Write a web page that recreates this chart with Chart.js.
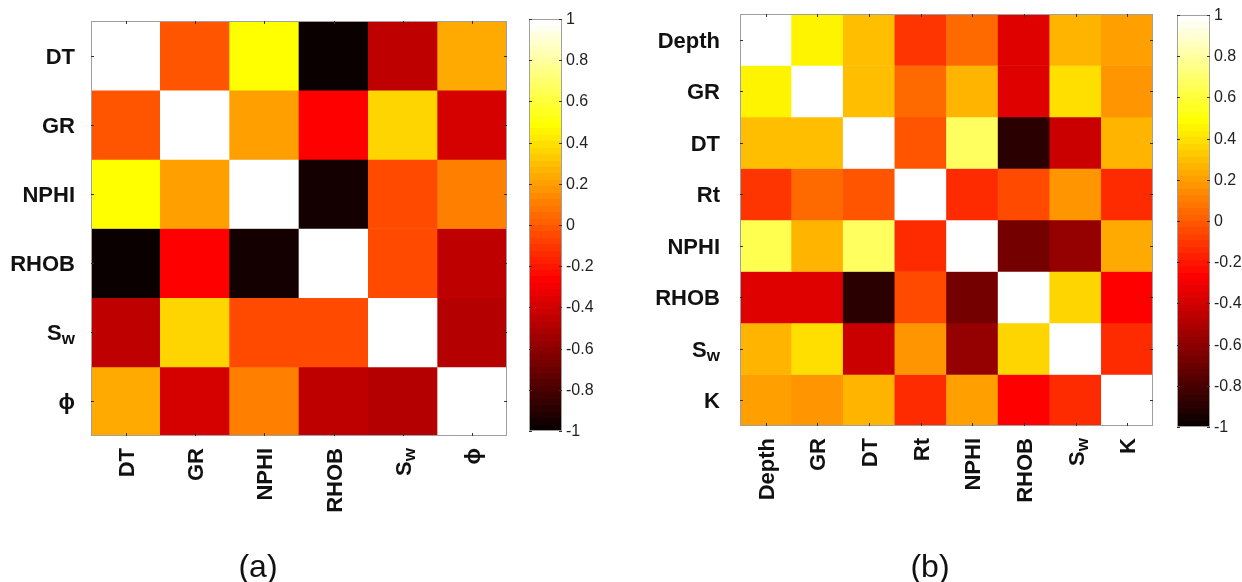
<!DOCTYPE html>
<html>
<head>
<meta charset="utf-8">
<script src="https://cdn.jsdelivr.net/npm/chart.js@4.4.1/dist/chart.umd.min.js"></script>
<style>
  body { margin: 0; background: #fff; }
  #wrap { position: relative; width: 1242px; height: 582px; overflow: hidden; background: #fff;
          font-family: "Liberation Sans", Arial, sans-serif; }
  canvas { position: absolute; top: 0; }
  .cap { position: absolute; width: 100px; text-align: center; font-size: 32px; line-height: 32px; color: #111; }
</style>
</head>
<body>
<div id="wrap">
  <canvas id="heatA" width="520" height="582" style="left:0"></canvas>
  <canvas id="barA" width="110" height="582" style="left:515px"></canvas>
  <canvas id="heatB" width="540" height="582" style="left:625px"></canvas>
  <canvas id="barB" width="77" height="582" style="left:1165px"></canvas>
  <div class="cap" style="left:208px;top:550px">(a)</div>
  <div class="cap" style="left:880px;top:550px">(b)</div>
</div>
<script>
// ---- data ----
const catsA = ['DT', 'GR', 'NPHI', 'RHOB', 'S_w', 'ϕ'];
const corrA = [
  [ 1.00, -0.02,  0.48, -0.98, -0.45,  0.23],
  [-0.02,  1.00,  0.20, -0.27,  0.36, -0.39],
  [ 0.48,  0.20,  1.00, -0.95, -0.05,  0.11],
  [-0.98, -0.27, -0.95,  1.00, -0.05, -0.45],
  [-0.45,  0.36, -0.05, -0.05,  1.00, -0.48],
  [ 0.23, -0.39,  0.11, -0.45, -0.48,  1.00]
];

const catsB = ['Depth', 'GR', 'DT', 'Rt', 'NPHI', 'RHOB', 'S_w', 'K'];
const corrB = [
  [ 1.00,  0.45,  0.30, -0.11,  0.05, -0.36,  0.27,  0.20],
  [ 0.45,  1.00,  0.30,  0.05,  0.27, -0.36,  0.39,  0.17],
  [ 0.30,  0.30,  1.00, -0.02,  0.67, -0.89, -0.42,  0.27],
  [-0.11,  0.05, -0.02,  1.00, -0.14, -0.05,  0.17, -0.14],
  [ 0.64,  0.27,  0.67, -0.14,  1.00, -0.67, -0.58,  0.23],
  [-0.36, -0.36, -0.89, -0.05, -0.67,  1.00,  0.36, -0.27],
  [ 0.27,  0.39, -0.42,  0.17, -0.58,  0.36,  1.00, -0.14],
  [ 0.20,  0.17,  0.27, -0.14,  0.20, -0.27, -0.14,  1.00]
];

const cbarTicks = [1, 0.8, 0.6, 0.4, 0.2, 0, -0.2, -0.4, -0.6, -0.8, -1];

const FONT = '"Liberation Sans", Arial, sans-serif';

// matlab "hot" colormap, 64 levels
const HOT = [];
for (let i = 0; i < 64; i++) {
  const r = Math.min(1, (i + 1) / 24);
  const g = i < 24 ? 0 : Math.min(1, (i - 23) / 24);
  const b = i < 48 ? 0 : (i - 47) / 16;
  HOT.push('rgb(' + Math.round(r * 255) + ',' + Math.round(g * 255) + ',' + Math.round(b * 255) + ')');
}
function hot(v) {
  const t = (v + 1) / 2;
  const idx = Math.max(0, Math.min(63, Math.floor(t * 64)));
  return HOT[idx];
}

// label with optional subscript ("S_w")
function drawLabel(ctx, text, x, y, align) {
  const parts = text.split('_');
  const base = parts[0], sub = parts[1] || '';
  ctx.font = 'bold 22px ' + FONT;
  const wb = ctx.measureText(base).width;
  ctx.font = 'bold 17px ' + FONT;
  const ws = sub ? ctx.measureText(sub).width : 0;
  const total = wb + ws;
  const x0 = align === 'right' ? x - total : x - total / 2;
  const yb = y + 8;
  ctx.textAlign = 'left';
  ctx.textBaseline = 'alphabetic';
  ctx.fillStyle = '#111';
  ctx.font = 'bold 22px ' + FONT;
  ctx.fillText(base, x0, yb);
  if (sub) {
    ctx.font = 'bold 17px ' + FONT;
    ctx.fillText(sub, x0 + wb, yb + 4);
  }
}

const heatLabels = {
  id: 'heatLabels',
  afterDraw(chart, args, opts) {
    const { ctx, chartArea: a, scales: { x, y } } = chart;
    const cats = chart.data.labels;
    ctx.save();
    // frame
    ctx.strokeStyle = '#a0a0a0';
    ctx.lineWidth = 1;
    ctx.strokeRect(a.left + 0.5, a.top + 0.5, a.width - 1, a.height - 1);
    // small inner ticks
    ctx.strokeStyle = '#333';
    cats.forEach((c, i) => {
      const px = Math.round(x.getPixelForValue(i)) + 0.5;
      const py = Math.round(y.getPixelForValue(i + 0.5)) + 0.5;
      ctx.beginPath();
      ctx.moveTo(px, a.top); ctx.lineTo(px, a.top + 3);
      ctx.moveTo(px, a.bottom); ctx.lineTo(px, a.bottom - 3);
      ctx.moveTo(a.left, py); ctx.lineTo(a.left + 3, py);
      ctx.moveTo(a.right, py); ctx.lineTo(a.right - 3, py);
      ctx.stroke();
    });
    // row labels
    cats.forEach((c, i) => {
      drawLabel(ctx, c, a.left - opts.gap, y.getPixelForValue(i + 0.5), 'right');
    });
    // column labels, rotated
    cats.forEach((c, i) => {
      ctx.save();
      ctx.translate(x.getPixelForValue(i), a.bottom + 12);
      ctx.rotate(-Math.PI / 2);
      drawLabel(ctx, c, 0, 0, 'right');
      ctx.restore();
    });
    ctx.restore();
  }
};

function heatmap(id, cats, corr, pad, gap) {
  new Chart(document.getElementById(id), {
    type: 'bar',
    data: {
      labels: cats,
      datasets: corr.map((row, r) => ({
        label: cats[r],
        data: row.map((v, j) => ({ x: cats[j], y: 1, v: v })),
        backgroundColor: (ctx) => hot(ctx.raw ? ctx.raw.v : 0),
        borderWidth: 0,
        barPercentage: 1,
        categoryPercentage: 1
      }))
    },
    options: {
      responsive: false,
      animation: false,
      layout: { padding: pad },
      plugins: {
        legend: { display: false },
        tooltip: {
          callbacks: {
            title: (items) => items[0].dataset.label + ' / ' + items[0].label,
            label: (item) => 'r = ' + item.raw.v
          }
        },
        heatLabels: { gap: gap }
      },
      scales: {
        x: { display: false, stacked: true, offset: true },
        y: { display: false, stacked: true, min: 0, max: cats.length, reverse: true }
      }
    },
    plugins: [heatLabels]
  });
}

const cbarPlugin = {
  id: 'cbar',
  afterDraw(chart) {
    const { ctx, chartArea: a, scales: { y } } = chart;
    ctx.save();
    ctx.strokeStyle = '#a0a0a0';
    ctx.lineWidth = 1;
    ctx.strokeRect(a.left + 0.5, a.top + 0.5, a.width - 1, a.height - 1);
    ctx.strokeStyle = '#333';
    ctx.fillStyle = '#222';
    ctx.font = '16px ' + FONT;
    ctx.textAlign = 'left';
    ctx.textBaseline = 'middle';
    cbarTicks.forEach(v => {
      const py = Math.round(y.getPixelForValue(v)) + 0.5;
      ctx.beginPath();
      ctx.moveTo(a.left, py); ctx.lineTo(a.left + 3, py);
      ctx.moveTo(a.right, py); ctx.lineTo(a.right - 3, py);
      ctx.stroke();
      ctx.fillText(String(v), a.right + 4, py);
    });
    ctx.restore();
  }
};

function colorbar(id, pad) {
  new Chart(document.getElementById(id), {
    type: 'bar',
    data: {
      labels: [''],
      datasets: [{
        data: [[-1, 1]],
        borderWidth: 0,
        barPercentage: 1,
        categoryPercentage: 1,
        backgroundColor: (ctx) => {
          const chart = ctx.chart;
          if (!chart.chartArea) return '#000';
          const y = chart.scales.y;
          const g = chart.ctx.createLinearGradient(0, y.getPixelForValue(-1), 0, y.getPixelForValue(1));
          HOT.forEach((c, i) => {
            g.addColorStop(i / 64, c);
            g.addColorStop((i + 1) / 64, c);
          });
          return g;
        }
      }]
    },
    options: {
      responsive: false,
      animation: false,
      layout: { padding: pad },
      plugins: { legend: { display: false }, tooltip: { enabled: false } },
      scales: {
        x: { display: false },
        y: { display: false, min: -1, max: 1 }
      }
    },
    plugins: [cbarPlugin]
  });
}

heatmap('heatA', catsA, corrA, { left: 91, right: 13, top: 21, bottom: 146 }, 16);
colorbar('barA', { left: 14, right: 63, top: 19, bottom: 151 });
heatmap('heatB', catsB, corrB, { left: 115, right: 12, top: 14, bottom: 156 }, 20);
colorbar('barB', { left: 12, right: 32, top: 15, bottom: 155 });
</script>
</body>
</html>
